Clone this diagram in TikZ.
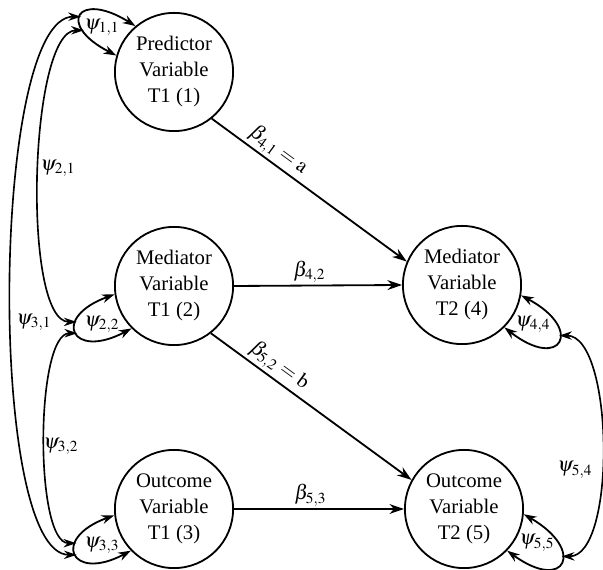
\documentclass[tikz,border=0pt]{standalone}
\usepackage{mathptmx}
\usepackage{fontspec}
\setmainfont{Liberation Serif}
\usetikzlibrary{arrows.meta,positioning,calc}

\begin{document}
\begin{tikzpicture}[x=0.55pt, y=0.55pt,
  var/.style={circle, draw, line width=1pt, minimum size=65pt, inner sep=0pt, align=center, font=\fontsize{11.4}{14.3}\selectfont},
  effect/.style={-{Stealth[length=8pt,width=5.4pt]}, line width=1pt},
  vloop/.style={{Stealth[length=7pt,width=4.8pt]}-{Stealth[length=7pt,width=4.8pt]}, line width=1pt},
  cov/.style={{Stealth[length=7pt,width=4.6pt]}-{Stealth[length=7pt,width=4.6pt]}, line width=0.9pt},
  lbl/.style={font=\fontsize{11.4}{14.3}\selectfont, inner sep=1pt}
]
  \useasboundingbox (0,0) rectangle (603,569);
  % time 1
  \node[var] (pred1) at (174,497) {Predictor\\Variable\\T1 (1)};
  \node[var] (med1) at (174,283) {Mediator\\Variable\\T1 (2)};
  \node[var] (out1) at (174,60) {Outcome\\Variable\\T1 (3)};
  % time 2
  \node[var] (med2) at (462,284) {Mediator\\Variable\\T2 (4)};
  \node[var] (out2) at (464,60) {Outcome\\Variable\\T2 (5)};
  % paths
  \draw[effect] (pred1.-51) -- (med2.157) node[lbl, pos=0.3, sloped, above] {$\beta_{4,1} = \mathrm{a}$};
  \draw[effect] (med1.east) -- (med2.west) node[lbl, pos=0.45, above] {$\beta_{4,2}$};
  \draw[effect] (med1.-52) -- (out2.151) node[lbl, pos=0.3, sloped, above] {$\beta_{5,2} = \mathrm{b}$};
  \draw[effect] (out1.east) -- (out2.west) node[lbl, pos=0.45, above] {$\beta_{5,3}$};
  % variances
  \draw[vloop] (pred1.130) .. controls +(148:68) and +(153:68) .. coordinate[pos=0.52] (c31a) coordinate[pos=0.72] (c21a) (pred1.164);
  \draw[vloop] (med1.188) .. controls +(200:68) and +(208:68) .. coordinate[pos=0.35] (c21b) coordinate[pos=0.52] (c32a) (med1.225);
  \draw[vloop] (out1.186) .. controls +(200:68) and +(208:68) .. coordinate[pos=0.35] (c32b) coordinate[pos=0.52] (c31b) (out1.224);
  \draw[vloop] (med2.-10) .. controls +(-28:72) and +(-38:72) .. coordinate[pos=0.42] (c54a) (med2.-45);
  \draw[vloop] (out2.-5) .. controls +(-30:72) and +(-36:72) .. coordinate[pos=0.42] (c54b) (out2.-44);
  \node[lbl] (psi11) at (102,542) {$\psi_{1,1}$};
  \node[lbl] (psi22) at (102,245) {$\psi_{2,2}$};
  \node[lbl] (psi33) at (102,24) {$\psi_{3,3}$};
  \node[lbl] (psi44) at (533,245) {$\psi_{4,4}$};
  \node[lbl] (psi55) at (537,26) {$\psi_{5,5}$};
  % covariances
  \draw[cov] (c31a) .. controls +(-90,0) and +(-90,0) .. (c31b);
  \draw[cov] (c21a) .. controls +(-55,0) and +(-55,0) .. (c21b);
  \draw[cov] (c32a) .. controls +(-42,0) and +(-42,0) .. (c32b);
  \draw[cov] (c54a) .. controls +(55,0) and +(55,0) .. (c54b);
  \node[lbl] (psi21) at (58,401) {$\psi_{2,1}$};
  \node[lbl] (psi31) at (34,247) {$\psi_{3,1}$};
  \node[lbl] (psi32) at (61,123) {$\psi_{3,2}$};
  \node[lbl] (psi54) at (575,99) {$\psi_{5,4}$};
\end{tikzpicture}
\end{document}
